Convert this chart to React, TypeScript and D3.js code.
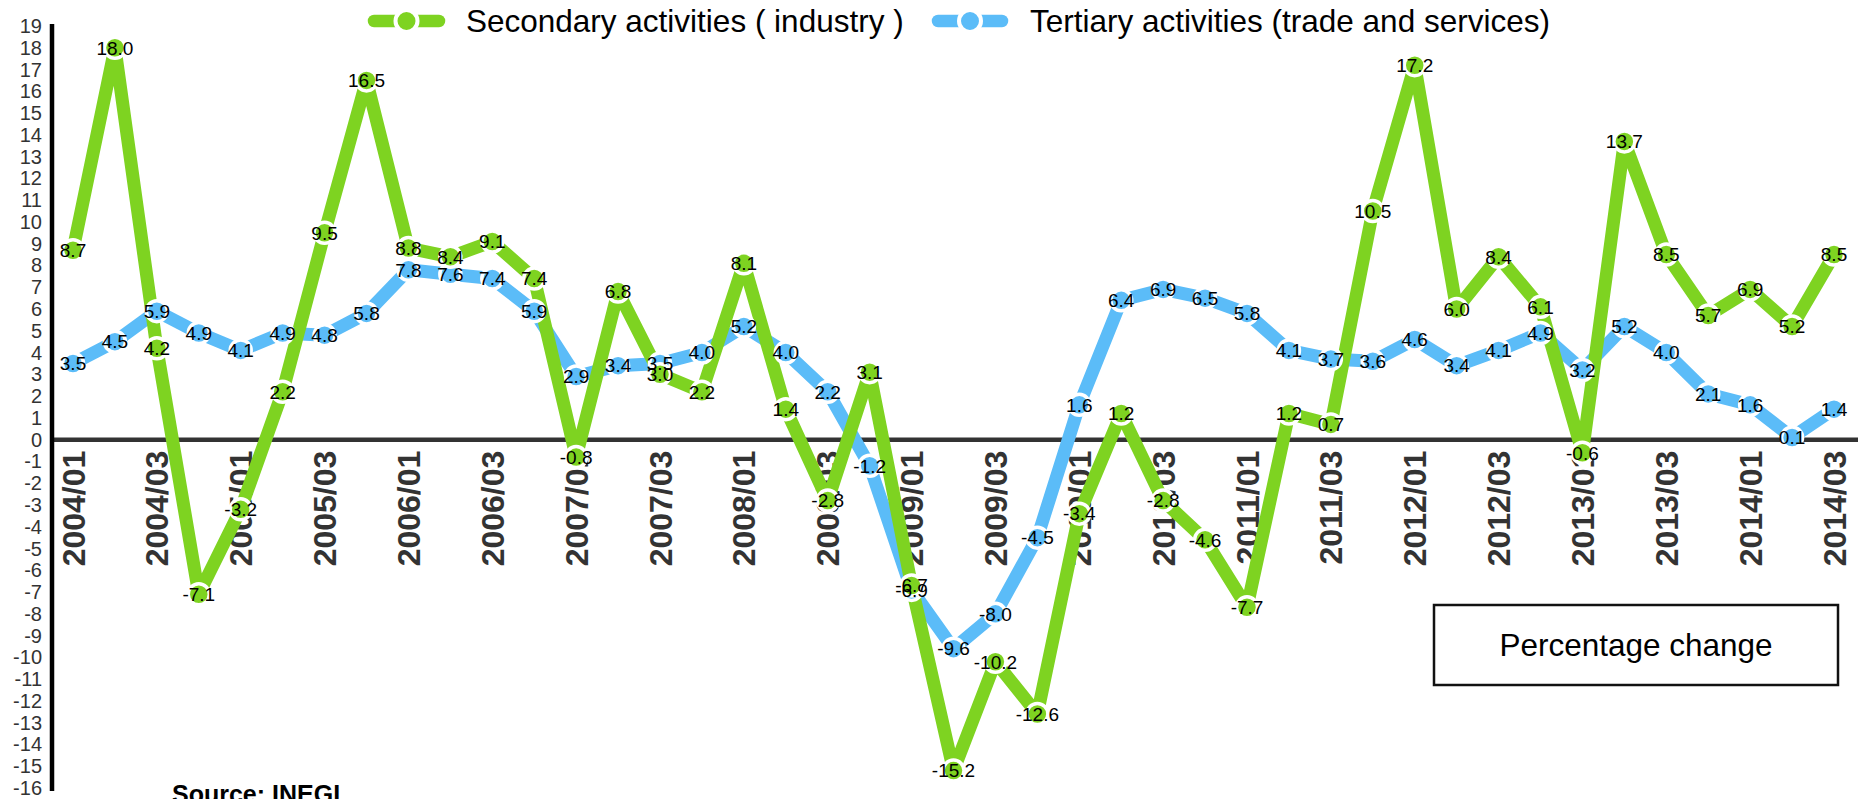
import React from "react";
import * as d3 from "d3";

const categories = [
  "2004/01","2004/02","2004/03","2004/04",
  "2005/01","2005/02","2005/03","2005/04",
  "2006/01","2006/02","2006/03","2006/04",
  "2007/01","2007/02","2007/03","2007/04",
  "2008/01","2008/02","2008/03","2008/04",
  "2009/01","2009/02","2009/03","2009/04",
  "2010/01","2010/02","2010/03","2010/04",
  "2011/01","2011/02","2011/03","2011/04",
  "2012/01","2012/02","2012/03","2012/04",
  "2013/01","2013/02","2013/03","2013/04",
  "2014/01","2014/02","2014/03",
];

const secondary = [
  8.7, 18.0, 4.2, -7.1, -3.2, 2.2, 9.5, 16.5, 8.8, 8.4, 9.1, 7.4, -0.8, 6.8, 3.0, 2.2,
  8.1, 1.4, -2.8, 3.1, -6.7, -15.2, -10.2, -12.6, -3.4, 1.2, -2.8, -4.6, -7.7, 1.2, 0.7,
  10.5, 17.2, 6.0, 8.4, 6.1, -0.6, 13.7, 8.5, 5.7, 6.9, 5.2, 8.5,
];

const tertiary = [
  3.5, 4.5, 5.9, 4.9, 4.1, 4.9, 4.8, 5.8, 7.8, 7.6, 7.4, 5.9, 2.9, 3.4, 3.5, 4.0,
  5.2, 4.0, 2.2, -1.2, -6.9, -9.6, -8.0, -4.5, 1.6, 6.4, 6.9, 6.5, 5.8, 4.1, 3.7,
  3.6, 4.6, 3.4, 4.1, 4.9, 3.2, 5.2, 4.0, 2.1, 1.6, 0.1, 1.4,
];

const xTickLabels = [
  "2004/01","2004/03","2005/01","2005/03","2006/01","2006/03","2007/01","2007/03",
  "2008/01","2008/03","2009/01","2009/03","2010/01","2010/03","2011/01","2011/03",
  "2012/01","2012/03","2013/01","2013/03","2014/01","2014/03",
];

const yTickValues = [
  -16, -15, -14, -13, -12, -11, -10, -9, -8, -7, -6, -5, -4, -3, -2, -1,
  0, 1, 2, 3, 4, 5, 6, 7, 8, 9, 10, 11, 12, 13, 14, 15, 16, 17, 18, 19,
];

const seriesNames = ["Secondary activities ( industry )", "Tertiary activities (trade and services)"];
const boxLabel = "Percentage change";
const sourceLabel = "Source: INEGI";

const GREEN = "#7ed321";
const BLUE = "#5bbcf8";
const FONT = "'Liberation Sans', Arial, Helvetica, sans-serif";

const W = 1858;
const H = 799;

export default function App() {
  const x = d3.scalePoint<string>().domain(categories).range([73, 1834]);
  const y = d3.scaleLinear().domain([-16, 19]).range([788, 26]);
  const axisX = 52;

  const line = d3
    .line<number>()
    .x((_, i) => x(categories[i]) as number)
    .y((d) => y(d));

  const series = [
    { name: seriesNames[1], values: tertiary, color: BLUE },
    { name: seriesNames[0], values: secondary, color: GREEN },
  ];

  const legendItems = [
    { name: seriesNames[0], color: GREEN, x0: 368, x1: 445, tx: 466 },
    { name: seriesNames[1], color: BLUE, x0: 932, x1: 1008, tx: 1030 },
  ];

  return (
    <svg
      width={W}
      height={H}
      style={{ position: "absolute", left: 0, top: 0, background: "#fff" }}
      fontFamily={FONT}
    >
      <rect x={0} y={0} width={W} height={H} fill="#fff" />
      {/* zero line */}
      <line x1={axisX} x2={W} y1={y(0)} y2={y(0)} stroke="#333" strokeWidth={4.5} />
      {/* y axis */}
      <line x1={axisX} x2={axisX} y1={24} y2={791} stroke="#000" strokeWidth={4.5} />
      {yTickValues.map((t) => (
        <text
          key={"yt" + t}
          x={42}
          y={y(t)}
          dy="0.35em"
          textAnchor="end"
          fontSize={20}
          fill="#333"
        >
          {t}
        </text>
      ))}
      {/* x tick labels */}
      {xTickLabels.map((lab) => (
        <text
          key={"xt" + lab}
          transform={`translate(${(x(lab) as number) + 11.5},${y(0) + 11}) rotate(-90)`}
          textAnchor="end"
          fontSize={32}
          fontWeight="bold"
          fill="#333"
        >
          {lab}
        </text>
      ))}
      {/* lines */}
      {series.map((s) => (
        <path
          key={"l" + s.name}
          d={line(s.values) as string}
          fill="none"
          stroke={s.color}
          strokeWidth={13}
          strokeLinejoin="round"
          strokeLinecap="round"
        />
      ))}
      {/* markers */}
      {series.map((s) =>
        s.values.map((v, i) => (
          <circle
            key={"m" + s.name + i}
            cx={x(categories[i]) as number}
            cy={y(v)}
            r={10.5}
            fill={s.color}
            stroke="#fff"
            strokeWidth={3.5}
          />
        ))
      )}
      {/* data labels */}
      {series.map((s) =>
        s.values.map((v, i) => (
          <text
            key={"d" + s.name + i}
            x={x(categories[i]) as number}
            y={y(v) + 6.8}
            textAnchor="middle"
            fontSize={19}
            fill="#000"
          >
            {v.toFixed(1)}
          </text>
        ))
      )}
      {/* legend */}
      {legendItems.map((it) => (
        <g key={"lg" + it.name}>
          <line x1={it.x0 + 6} x2={it.x1 - 6} y1={21} y2={21} stroke={it.color} strokeWidth={12.5} strokeLinecap="round" />
          <circle cx={(it.x0 + it.x1) / 2} cy={21} r={11} fill={it.color} stroke="#fff" strokeWidth={4} />
          <text x={it.tx} y={32} fontSize={31.5} fill="#000">
            {it.name}
          </text>
        </g>
      ))}
      {/* percentage change box */}
      <rect x={1434} y={605} width={404} height={80} fill="#fff" stroke="#111" strokeWidth={2.5} />
      <text x={1636} y={656} textAnchor="middle" fontSize={31.5} fill="#000">
        {boxLabel}
      </text>
      {/* source */}
      <text x={172} y={803} fontSize={25} fontWeight="bold" fill="#000">
        {sourceLabel}
      </text>
    </svg>
  );
}
